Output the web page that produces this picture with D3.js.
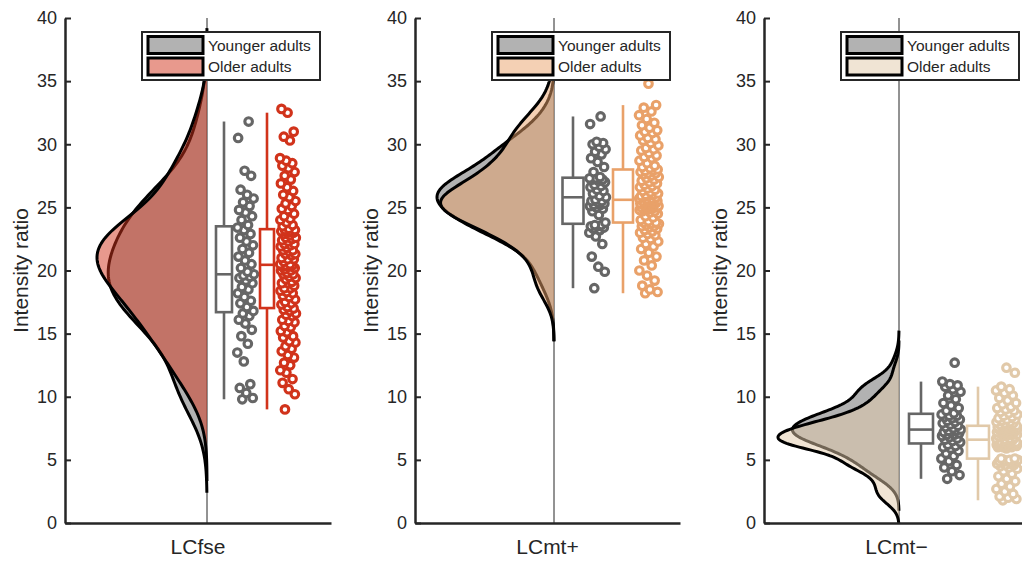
<!DOCTYPE html>
<html>
<head>
<meta charset="utf-8">
<script src="https://cdn.jsdelivr.net/npm/d3@7"></script>
<style>
  body { margin: 0; background: #fff; }
  text { font-family: "Liberation Sans", Arial, sans-serif; fill: #262626; }
</style>
</head>
<body>
<svg id="chart" width="1022" height="561"></svg>
<script>
// ---- data -------------------------------------------------------------
const regions = ["LCfse", "LCmt+", "LCmt\u2212"];
const groupNames = ["Younger adults", "Older adults"];
const yTicks = [0, 5, 10, 15, 20, 25, 30, 35, 40];
const yLabel = "Intensity ratio";

const youngColor = "#666666";
const olderColors = ["#d1331b", "#e9a169", "#e1c9a9"];

// intensity ratios, one value per participant
const lcfseYoung = [9.8, 9.9, 10.3, 10.7, 11.0, 12.8, 13.5, 14.2, 14.8, 15.3, 15.8, 16.1, 16.4, 16.6,
  16.8, 17.1, 17.4, 17.6, 17.9, 18.2, 18.5, 18.7, 19.0, 19.2, 19.4, 19.5, 19.6, 19.7, 19.9, 20.2,
  20.5, 20.8, 21.1, 21.4, 21.7, 22.0, 22.3, 22.6, 22.9, 23.2, 23.4, 23.6, 24.0, 24.3, 24.6, 24.8,
  25.1, 25.4, 25.7, 26.0, 26.4, 27.5, 27.9, 30.5, 31.8];
const lcfseOlder = [9.0, 10.2, 10.6, 11.1, 11.4, 11.9, 12.1, 12.5, 12.7, 13.1, 13.3, 13.6, 13.8, 14.0,
  14.3, 14.4, 14.7, 14.8, 15.1, 15.2, 15.5, 15.6, 15.9, 16.0, 16.1, 16.4, 16.5, 16.6, 16.8, 16.9,
  17.0, 17.1, 17.3, 17.4, 17.5, 17.7, 17.9, 18.0, 18.2, 18.3, 18.4, 18.6, 18.6, 18.8, 19.0, 19.0,
  19.1, 19.3, 19.4, 19.5, 19.7, 19.7, 19.8, 20.0, 20.0, 20.1, 20.2, 20.3, 20.3, 20.4, 20.4, 20.5,
  20.5, 20.7, 20.9, 20.9, 21.0, 21.2, 21.3, 21.3, 21.5, 21.6, 21.6, 21.8, 21.9, 22.0, 22.1, 22.1,
  22.3, 22.4, 22.5, 22.6, 22.6, 22.8, 22.9, 23.0, 23.0, 23.1, 23.1, 23.2, 23.2, 23.3, 23.5, 23.6,
  23.8, 24.0, 24.1, 24.3, 24.5, 24.8, 24.9, 25.1, 25.3, 25.5, 25.8, 26.0, 26.3, 26.6, 26.9, 27.2,
  27.5, 27.8, 28.1, 28.3, 28.5, 28.7, 28.9, 30.3, 30.6, 31.0, 32.5, 32.8];

const lcmtPlusYoung = [18.6, 19.9, 20.3, 21.1, 22.1, 22.7, 23.0, 23.2, 23.3, 23.4, 23.5, 23.5, 23.6,
  23.6, 23.8, 24.4, 24.7, 24.9, 25.0, 25.1, 25.2, 25.2, 25.3, 25.4, 25.5, 25.5, 25.6, 25.8, 25.9,
  26.1, 26.3, 26.4, 26.6, 26.7, 26.8, 27.0, 27.1, 27.2, 27.2, 27.3, 27.3, 27.4, 27.8, 28.2, 28.6,
  28.9, 29.2, 29.4, 29.6, 29.8, 30.0, 30.1, 30.2, 31.6, 32.2];
const lcmtPlusOlder = [18.2, 18.3, 18.5, 18.8, 19.2, 19.6, 20.0, 20.4, 20.8, 21.1, 21.4, 21.7, 21.9,
  22.1, 22.3, 22.5, 22.6, 22.8, 22.9, 23.0, 23.1, 23.2, 23.3, 23.4, 23.5, 23.5, 23.6, 23.7, 23.7,
  23.8, 23.8, 23.9, 24.0, 24.2, 24.3, 24.5, 24.6, 24.7, 24.7, 24.8, 24.8, 24.9, 24.9, 25.0, 25.0,
  25.0, 25.1, 25.1, 25.1, 25.2, 25.2, 25.3, 25.3, 25.3, 25.4, 25.4, 25.5, 25.5, 25.5, 25.6, 25.6,
  25.7, 25.7, 25.8, 25.8, 25.9, 25.9, 26.0, 26.0, 26.1, 26.2, 26.3, 26.4, 26.5, 26.6, 26.7, 26.8,
  26.9, 27.0, 27.1, 27.2, 27.3, 27.4, 27.5, 27.6, 27.7, 27.7, 27.8, 27.9, 27.9, 28.0, 28.1, 28.2,
  28.3, 28.5, 28.7, 28.9, 29.0, 29.1, 29.3, 29.5, 29.6, 29.7, 29.9, 30.1, 30.3, 30.4, 30.5, 30.7,
  30.9, 31.0, 31.1, 31.3, 31.5, 31.7, 32.0, 32.3, 32.6, 32.9, 33.1, 34.8];

const lcmtMinusYoung = [3.5, 3.8, 4.1, 4.4, 4.6, 4.9, 5.1, 5.3, 5.5, 5.7, 5.9, 6.0, 6.1, 6.2, 6.4,
  6.5, 6.6, 6.7, 6.8, 6.9, 7.0, 7.0, 7.1, 7.2, 7.2, 7.3, 7.3, 7.4, 7.5, 7.6, 7.7, 7.8, 7.9, 8.0,
  8.1, 8.2, 8.3, 8.4, 8.5, 8.5, 8.6, 8.7, 8.9, 9.1, 9.3, 9.5, 9.8, 10.1, 10.4, 10.6, 10.8, 10.9,
  11.0, 11.2, 12.7];
const lcmtMinusOlder = [1.8, 1.9, 2.0, 2.1, 2.3, 2.5, 2.7, 2.9, 3.1, 3.3, 3.5, 3.7, 3.9, 4.1, 4.3,
  4.4, 4.5, 4.6, 4.6, 4.7, 4.7, 4.8, 4.8, 4.9, 4.9, 4.9, 5.0, 5.0, 5.0, 5.1, 5.1, 5.9, 6.0, 6.0,
  6.0, 6.1, 6.1, 6.1, 6.1, 6.1, 6.2, 6.2, 6.2, 6.2, 6.2, 6.2, 6.3, 6.3, 6.3, 6.3, 6.3, 6.3, 6.4,
  6.4, 6.4, 6.4, 6.4, 6.5, 6.5, 6.6, 6.6, 6.7, 6.7, 6.8, 6.8, 6.9, 6.9, 7.0, 7.0, 7.0, 7.1, 7.1,
  7.1, 7.2, 7.2, 7.2, 7.3, 7.3, 7.3, 7.4, 7.4, 7.4, 7.5, 7.5, 7.5, 7.6, 7.6, 7.6, 7.7, 7.7, 7.7,
  7.8, 7.8, 7.9, 7.9, 8.0, 8.0, 8.1, 8.2, 8.2, 8.3, 8.4, 8.5, 8.6, 8.7, 8.8, 8.9, 9.0, 9.1, 9.2,
  9.4, 9.5, 9.7, 9.9, 10.1, 10.3, 10.5, 10.6, 10.8, 11.9, 12.3];

const youngSeries = [lcfseYoung, lcmtPlusYoung, lcmtMinusYoung];
const olderSeries = [lcfseOlder, lcmtPlusOlder, lcmtMinusOlder];

// ---- layout -----------------------------------------------------------
const svg = d3.select("#chart");
const plotTop = 18, plotBottom = 523;
const y = d3.scaleLinear().domain([0, 40]).range([plotBottom, plotTop]);

// per-panel geometry, pixel offsets measured from the zero-density line
const panels = [
  { axisX: 65,  right: 331,  zero: 142, peakPx: 110,
    box: [{ c: 17, hw: 8 },  { c: 60, hw: 7 }],
    cloud: [[30, 47], [73, 89]] },
  { axisX: 415, right: 680,  zero: 139, peakPx: 117,
    box: [{ c: 19, hw: 10.5 }, { c: 69, hw: 10 }],
    cloud: [[35, 52], [85, 105]] },
  { axisX: 764, right: 1029, zero: 135, peakPx: 121,
    box: [{ c: 22, hw: 12 }, { c: 79, hw: 11 }],
    cloud: [[42, 62], [97, 119]] }
];

// Gaussian kernel density, normal-reference bandwidth from the MAD
function kde(values) {
  const s = values.slice().sort(d3.ascending);
  const n = s.length;
  const med = d3.median(s);
  const mad = d3.median(s, v => Math.abs(v - med));
  const bw = (mad / 0.6745) * Math.pow(4 / (3 * n), 0.2);
  const lo = s[0] - 3 * bw, hi = s[n - 1] + 3 * bw;
  const norm = 1 / (n * bw * Math.sqrt(2 * Math.PI));
  return d3.range(201).map(i => {
    const v = lo + (hi - lo) * i / 200;
    let d = 0;
    for (const x of s) { const u = (v - x) / bw; d += Math.exp(-0.5 * u * u); }
    return [v, d * norm];
  });
}

function boxStats(values) {
  const s = values.slice().sort(d3.ascending);
  const q1 = d3.quantile(s, 0.25), med = d3.quantile(s, 0.5), q3 = d3.quantile(s, 0.75);
  const iqr = q3 - q1;
  const hiW = d3.max(s.filter(v => v <= q3 + 1.5 * iqr));
  const loW = d3.min(s.filter(v => v >= q1 - 1.5 * iqr));
  return { q1, med, q3, hiW, loW };
}

const defs = svg.append("defs");

regions.forEach((region, p) => {
  const P = panels[p];
  const g = svg.append("g");
  const zeroX = P.axisX + P.zero;
  const series = [youngSeries[p], olderSeries[p]];
  const colors = [youngColor, olderColors[p]];
  const dens = series.map(kde);
  const peak = d3.max(dens, d => d3.max(d, e => e[1]));

  // x scale in density units: 0 at the baseline, densities drawn to the left
  const x = d3.scaleLinear()
    .domain([-peak * P.zero / P.peakPx, peak * (P.right - zeroX) / P.peakPx])
    .range([P.axisX, P.right]);
  const x0 = x(0);

  defs.append("clipPath").attr("id", "clip" + p)
    .append("rect").attr("x", P.axisX).attr("y", plotTop)
    .attr("width", P.right - P.axisX).attr("height", plotBottom - plotTop);

  const plot = g.append("g").attr("clip-path", `url(#clip${p})`);

  // zero-density line
  plot.append("line")
    .attr("x1", x0).attr("x2", x0).attr("y1", plotTop).attr("y2", plotBottom)
    .attr("stroke", "#262626").attr("stroke-width", 1);

  // half-violin densities (younger first, older on top)
  const area = d3.area().y(d => y(d[0])).x0(x0).x1(d => x(-d[1]));
  const line = d3.line().x(d => x(-d[1])).y(d => y(d[0]));
  dens.forEach((d, i) => {
    plot.append("path").attr("d", area(d))
      .attr("fill", colors[i]).attr("fill-opacity", 0.5);
    plot.append("path").attr("d", line(d))
      .attr("fill", "none").attr("stroke", "#000").attr("stroke-width", 3)
      .attr("stroke-linejoin", "round");
  });

  // box plots and jittered raw points
  series.forEach((vals, i) => {
    const st = boxStats(vals);
    const bx = x0 + P.box[i].c, hw = P.box[i].hw;
    const bg = plot.append("g").attr("stroke", colors[i]).attr("stroke-width", 2.6).attr("fill", "none");
    bg.append("line").attr("x1", bx).attr("x2", bx).attr("y1", y(st.hiW)).attr("y2", y(st.q3));
    bg.append("line").attr("x1", bx).attr("x2", bx).attr("y1", y(st.q1)).attr("y2", y(st.loW));
    bg.append("rect").attr("x", bx - hw).attr("y", y(st.q3))
      .attr("width", 2 * hw).attr("height", y(st.q1) - y(st.q3)).attr("fill", "#fff");
    bg.append("line").attr("x1", bx - hw).attr("x2", bx + hw).attr("y1", y(st.med)).attr("y2", y(st.med));

    const [j0, j1] = P.cloud[i];
    plot.append("g").selectAll("circle").data(vals).join("circle")
      .attr("cx", (d, k) => x0 + j0 + (j1 - j0) * ((k * 0.618034 + 0.31) % 1))
      .attr("cy", d => y(d))
      .attr("r", 3.8)
      .attr("fill", "#fff").attr("stroke", colors[i]).attr("stroke-width", 3.1);
  });

  // axes
  const yAxis = g.append("g").attr("transform", `translate(${P.axisX},0)`)
    .call(d3.axisLeft(y).tickValues(yTicks).tickSize(-6).tickSizeOuter(0).tickPadding(8));
  yAxis.select(".domain").attr("stroke", "#262626").attr("stroke-width", 2.5);
  yAxis.selectAll(".tick line").attr("stroke", "#262626").attr("stroke-width", 2);
  yAxis.selectAll(".tick text").attr("font-size", 18).attr("fill", "#262626")
    .attr("font-family", '"Liberation Sans", Arial, sans-serif');

  const xAxis = g.append("g").attr("transform", `translate(0,${plotBottom})`)
    .call(d3.axisBottom(x).tickValues([]).tickSizeOuter(0));
  xAxis.select(".domain").attr("stroke", "#262626").attr("stroke-width", 2.5);

  g.append("text")
    .attr("x", (P.axisX + P.right) / 2).attr("y", 554)
    .attr("text-anchor", "middle").attr("font-size", 21).text(region);

  g.append("text")
    .attr("transform", `translate(${P.axisX - 37},${(plotTop + plotBottom) / 2}) rotate(-90)`)
    .attr("text-anchor", "middle").attr("font-size", 21).text(yLabel);

  // legend
  const L = g.append("g").attr("transform", `translate(${P.axisX + 77},32)`);
  L.append("rect").attr("width", 178).attr("height", 48)
    .attr("fill", "#fff").attr("stroke", "#262626").attr("stroke-width", 2);
  groupNames.forEach((name, i) => {
    const ly = 4.5 + i * 21.5;
    L.append("rect").attr("x", 6).attr("y", ly).attr("width", 55).attr("height", 17)
      .attr("fill", colors[i]).attr("fill-opacity", 0.5)
      .attr("stroke", "#000").attr("stroke-width", 3);
    L.append("text").attr("x", 66).attr("y", ly + 14).attr("font-size", 15.5).text(name);
  });
});
</script>
</body>
</html>
